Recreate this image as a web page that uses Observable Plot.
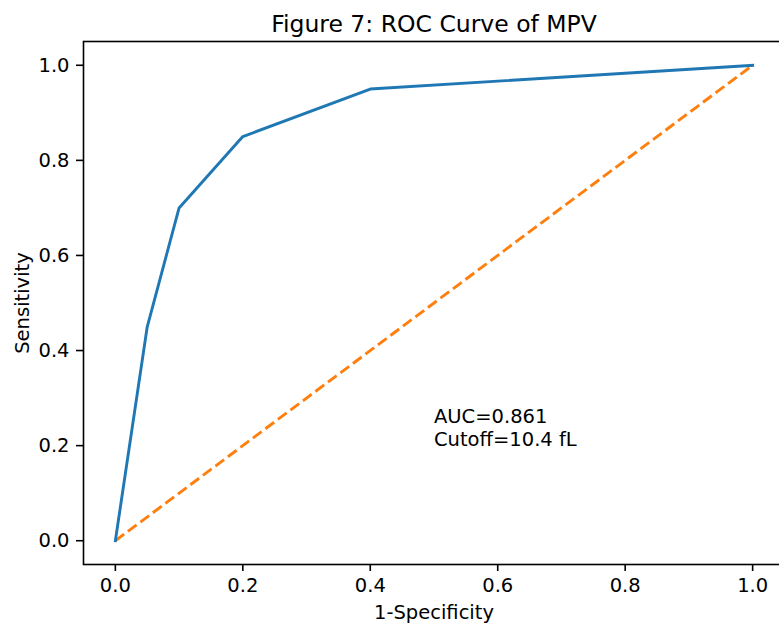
<!DOCTYPE html>
<html>
<head>
<meta charset="utf-8">
<script src="https://cdn.jsdelivr.net/npm/d3@7"></script>
<script src="https://cdn.jsdelivr.net/npm/@observablehq/plot@0.6"></script>
<style>
  html, body { margin: 0; padding: 0; overflow: hidden; background: white; width: 779px; height: 626px; }
  #chart svg { display: block; max-width: none !important; }
</style>
</head>
<body>
<div id="chart"></div>
<script>
// ROC curve of MPV
const fpr = [0, 0.05, 0.1, 0.2, 0.4, 1.0];
const tpr = [0, 0.45, 0.7, 0.85, 0.95, 1.0];
const diagX = [0, 1];
const diagY = [0, 1];
const ticks = [0, 0.2, 0.4, 0.6, 0.8, 1.0];
const titleText = "Figure 7: ROC Curve of MPV";
const xLabel = "1-Specificity";
const yLabel = "Sensitivity";
const annotationLines = ["AUC=0.861", "Cutoff=10.4 fL"];
const annotationX = 0.5;
const annotationY = 0.2;

const roc = fpr.map((x, i) => ({x, y: tpr[i]}));
const diag = diagX.map((x, i) => ({x, y: diagY[i]}));
const FONT = "DejaVu Sans, sans-serif";

const chart = Plot.plot({
  width: 785,
  height: 626,
  marginLeft: 83,
  marginRight: 1,
  marginTop: 41,
  marginBottom: 62,
  style: {fontFamily: FONT, fontSize: "19.5px", color: "black", background: "white", maxWidth: "none"},
  x: {domain: [-0.05, 1.05]},
  y: {domain: [-0.05, 1.05]},
  marks: [
    Plot.line(diag, {x: "x", y: "y", stroke: "#ff7f0e", strokeWidth: 2.9, strokeDasharray: "10.9,4.7", strokeLinecap: "butt"}),
    Plot.line(roc, {x: "x", y: "y", stroke: "#1f77b4", strokeWidth: 2.9, strokeLinecap: "square", strokeLinejoin: "round"}),
    Plot.frame({stroke: "black", strokeWidth: 1.6}),
    Plot.axisX(ticks, {tickSize: 7, tickPadding: 7, strokeWidth: 1.6, tickFormat: d3.format(".1f"), label: null, fontSize: 19.5}),
    Plot.axisY(ticks, {tickSize: 7, tickPadding: 7, strokeWidth: 1.6, tickFormat: d3.format(".1f"), label: null, fontSize: 19.5}),
    Plot.text([annotationLines.join("\n")], {x: () => annotationX, y: () => annotationY, text: d => d, textAnchor: "start", lineAnchor: "bottom", lineHeight: 1.15, fontSize: 19.5, fill: "black"}),
    Plot.text([titleText], {frameAnchor: "top", text: d => d, lineAnchor: "bottom", dy: -10, fontSize: 23.5, fill: "black"}),
    Plot.text([xLabel], {frameAnchor: "bottom", text: d => d, lineAnchor: "bottom", dy: 54, fontSize: 19.5, fill: "black"}),
    Plot.text([yLabel], {frameAnchor: "left", text: d => d, rotate: -90, textAnchor: "middle", lineAnchor: "bottom", dx: -55, fontSize: 19.5, fill: "black"})
  ]
});
document.getElementById("chart").appendChild(chart);
</script>
</body>
</html>
